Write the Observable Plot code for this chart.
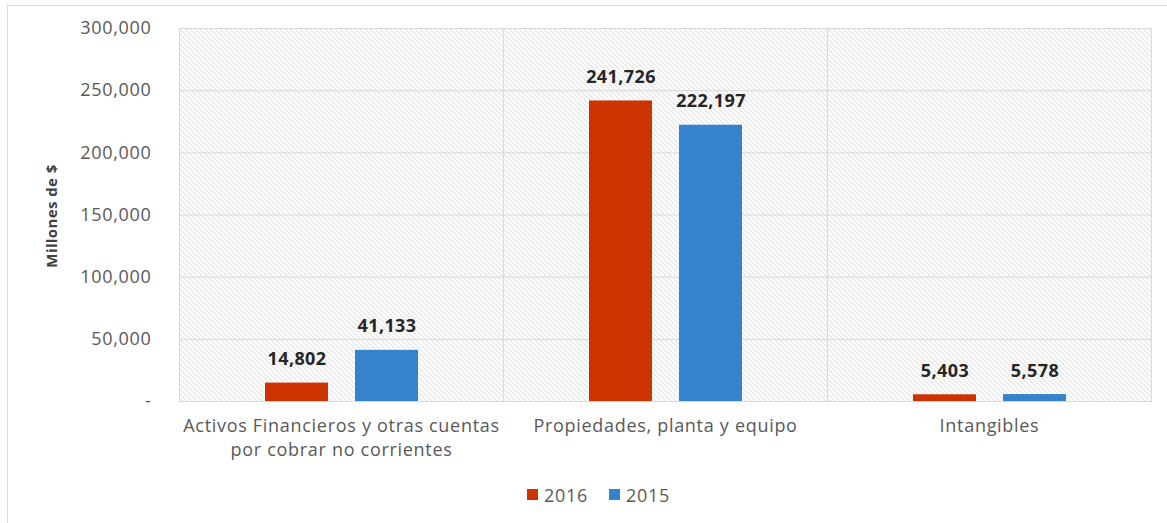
<!DOCTYPE html>
<html>
<head>
<meta charset="utf-8">
<script src="https://cdn.jsdelivr.net/npm/d3@7"></script>
<script src="https://cdn.jsdelivr.net/npm/@observablehq/plot@0.6"></script>
<style>
  html, body { margin: 0; padding: 0; background: #fff; }
  #wrap { position: relative; width: 1167px; height: 523px; overflow: hidden; font-family: "Open Sans", sans-serif; }
  #border { position: absolute; left: 7px; top: 5px; right: 0; bottom: 0; border-left: 1px solid #d9d9d9; border-top: 1px solid #d9d9d9; pointer-events: none; }
  #chart { position: absolute; left: 0; top: 0; }
  #ylabel { position: absolute; left: 51px; top: 216px; transform: translate(-50%, -50%) rotate(-90deg); white-space: nowrap; font-weight: bold; font-size: 15px; letter-spacing: 0.4px; color: #404040; }
  .leg { position: absolute; top: 482px; font-size: 18px; letter-spacing: 0.7px; color: #595959; line-height: 26px; }
  .sw { position: absolute; top: 489px; width: 11px; height: 11px; }
  #chart svg text { letter-spacing: 0.7px; }
  #chart svg g.vals text { letter-spacing: 0.4px; }
</style>
</head>
<body>
<div id="wrap">
  <div id="border"></div>
  <div id="chart"></div>
  <div id="ylabel">Millones de $</div>
  <div id="legend"></div>
</div>
<script>
const categories = [
  "Activos Financieros y otras cuentas\npor cobrar no corrientes",
  "Propiedades, planta y equipo",
  "Intangibles"
];
const years = ["2016", "2015"];
const values2016 = [14802, 241726, 5403];
const values2015 = [41133, 222197, 5578];
const yTicks = [0, 50000, 100000, 150000, 200000, 250000, 300000];
const colors = ["#cc3300", "#3583cd"];

const rows = [];
categories.forEach((c, i) => {
  rows.push({cat: c, year: "2016", value: values2016[i]});
  rows.push({cat: c, year: "2015", value: values2015[i]});
});

const fmt = d3.format(",");

const chart = Plot.plot({
  width: 1167,
  height: 470,
  marginLeft: 178,
  marginRight: 15,
  marginTop: 28,
  marginBottom: 69,
  style: {fontFamily: "Open Sans", background: "transparent"},
  fx: {domain: categories, padding: 0, label: null},
  x: {domain: years, paddingInner: 0.3, paddingOuter: 0.95, axis: null},
  y: {domain: [0, 300000], label: null},
  color: {domain: years, range: colors},
  marks: [
    Plot.frame({fill: "url(#hatch)", stroke: "#d9d9d9"}),
    Plot.gridY(yTicks, {stroke: "#d9d9d9", strokeOpacity: 1}),
    Plot.barY(rows, {fx: "cat", x: "year", y: "value", fill: "year"}),
    Plot.text(rows, {fx: "cat", x: "year", y: "value", text: d => fmt(d.value),
      lineAnchor: "bottom", dy: -18, fontWeight: "bold", fontSize: 18, fill: "#262626", className: "vals"}),
    Plot.axisY(yTicks, {tickSize: 0, tickPadding: 28, fontSize: 18, fill: "#595959",
      tickFormat: d => d === 0 ? "-" : fmt(d), label: null}),
    Plot.axisFx({anchor: "bottom", tickSize: 0, tickPadding: 14, fontSize: 18, fill: "#595959",
      lineHeight: 1.3, label: null})
  ]
});

const ns = "http://www.w3.org/2000/svg";
const defs = document.createElementNS(ns, "defs");
defs.innerHTML = `<pattern id="hatch" patternUnits="userSpaceOnUse" width="5" height="5">
  <rect width="5" height="5" fill="#ffffff"/>
  <path d="M-1,-1 L6,6 M-1,4 L1,6 M4,-1 L6,1" stroke="#c9c9c9" stroke-width="0.9"/>
</pattern>`;
chart.insertBefore(defs, chart.firstChild);
document.getElementById("chart").appendChild(chart);

// legend
const legend = document.getElementById("legend");
const legX = [527, 609];
years.forEach((y, i) => {
  const sw = document.createElement("div");
  sw.className = "sw";
  sw.style.left = legX[i] + "px";
  sw.style.background = colors[i];
  legend.appendChild(sw);
  const t = document.createElement("div");
  t.className = "leg";
  t.style.left = (legX[i] + 17) + "px";
  t.textContent = y;
  legend.appendChild(t);
});
</script>
</body>
</html>
